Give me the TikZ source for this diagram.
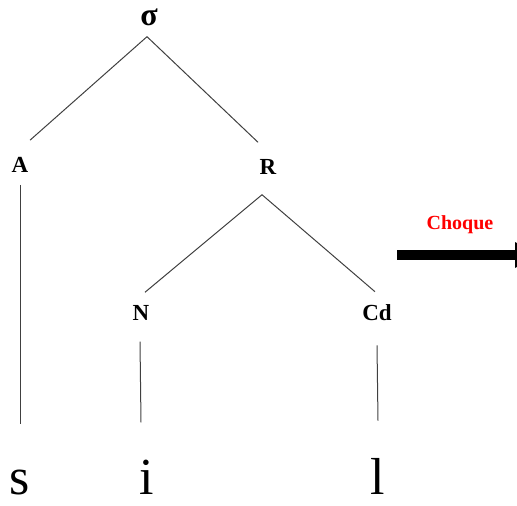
\documentclass[tikz,border=0pt]{standalone}
\usepackage{fontspec}
\setmainfont{Liberation Serif}
\usepackage{tikz}
\usetikzlibrary{positioning,arrows.meta,calc}
\definecolor{shockred}{HTML}{FF0000}

\begin{document}
\begin{tikzpicture}[x=1pt, y=-1pt,
    lab/.style={font=\fontsize{23}{26}\selectfont\bfseries, inner sep=0pt},
    seg/.style={font=\fontsize{52}{58}\selectfont, inner sep=0pt},
    branch/.style={draw=black!75, line width=1pt}]
        \useasboundingbox (0,0) rectangle (517,506);

        % Syllable tree
        \node[lab, font=\fontsize{32}{36}\selectfont\bfseries] (sigma) at (149,17) {σ};
        \node[lab] (onset) at (20,165) {A};
        \node[lab] (rhyme) at (268,167) {R};
        \node[lab] (nucleus) at (141,313) {N};
        \node[lab] (coda) at (377,313) {Cd};

        \draw[branch] ($(sigma.south)+(-2,11)$) -- ($(onset.north)+(10,-17)$);
        \draw[branch] ($(sigma.south)+(-2,11)$) -- ($(rhyme.north)+(-10,-17)$);
        \draw[branch] ($(rhyme.south)+(-6,20)$) -- ($(nucleus.north)+(4,-13)$);
        \draw[branch] ($(rhyme.south)+(-6,20)$) -- ($(coda.north)+(-2,-13)$);

        % Segments
        \node[seg, anchor=base] (s) at (20,494) {s};
        \node[seg, anchor=base] (i) at (147,494) {i};
        \node[seg, anchor=base] (l) at (378,494) {l};

        \draw[branch] ($(onset.south)+(0,12)$) -- ($(s.north)+(0,-45)$);
        \draw[branch] ($(nucleus.south)+(-1,21)$) -- ($(i.north)+(-6,-37)$);
        \draw[branch] ($(coda.south)+(0,24)$) -- ($(l.north)+(0,-37)$);

        % Arrow
        \coordinate (arrStart) at (397,255);
        \coordinate (arrEnd) at (540,255);
        \draw[line width=10pt, -{Triangle[length=25pt, width=24pt]}] (arrStart) -- (arrEnd);
        \node[font=\fontsize{20}{24}\selectfont\bfseries, text=shockred, inner sep=0pt] (shock) at (460,225) {Choque};
\end{tikzpicture}
\end{document}
